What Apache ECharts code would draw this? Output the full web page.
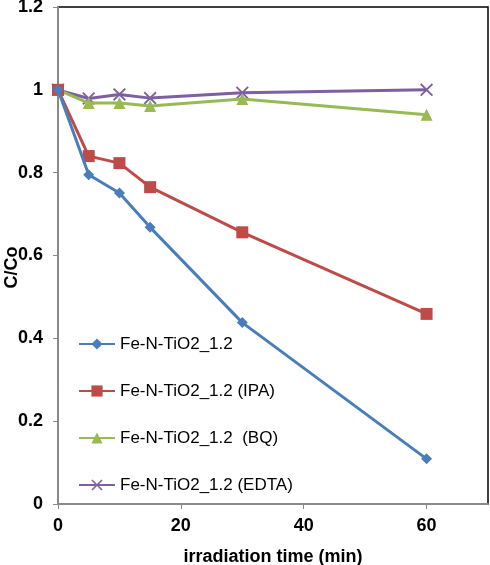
<!DOCTYPE html>
<html><head><meta charset="utf-8">
<script src="https://cdn.jsdelivr.net/npm/echarts@6/dist/echarts.min.js"></script>
<style>html,body{margin:0;padding:0;background:#fff}#c{width:490px;height:565px}</style>
</head><body><div id="c"></div>
<script>
const times = [0, 5, 10, 15, 30, 60];
const seriesNames = ['Fe-N-TiO2_1.2', 'Fe-N-TiO2_1.2 (IPA)', 'Fe-N-TiO2_1.2  (BQ)', 'Fe-N-TiO2_1.2 (EDTA)'];
const plain = [1, 0.795, 0.751, 0.668, 0.438, 0.109];
const ipa = [1, 0.840, 0.823, 0.765, 0.656, 0.459];
const bq = [1, 0.968, 0.968, 0.961, 0.978, 0.940];
const edta = [1, 0.979, 0.989, 0.980, 0.993, 1.0];
const xTicks = [0, 20, 40, 60];
const yTicks = [0, 0.2, 0.4, 0.6, 0.8, 1, 1.2];

const colors = ['#4A7EBB', '#BE4B48', '#98B954', '#7D60A0'];
const symbols = ['diamond', 'rect', 'triangle',
  'path://M0,1L1,0L5,4L9,0L10,1L6,5L10,9L9,10L5,6L1,10L0,9L4,5Z'];
const sizes = [11, 12, 12, 13];
const dataSets = [plain, ipa, bq, edta];

const chart = echarts.init(document.getElementById('c'));
const font = 'Liberation Sans, Arial, sans-serif';
chart.setOption({
  animation: false,
  grid: {left: 58, right: 2, top: 7, bottom: 61, outerBoundsMode: 'none', containLabel: false,
    show: true, borderColor: '#000', borderWidth: 1.5, backgroundColor: 'transparent'},
  legend: {
    orient: 'vertical', left: 78, top: 335, padding: 0, itemWidth: 36, itemHeight: 14, itemGap: 29,
    textStyle: {fontFamily: font, fontSize: 17, lineHeight: 18, color: '#000'},
    data: seriesNames
  },
  xAxis: {
    type: 'value', min: 0, max: 70, interval: 20,
    name: 'irradiation time (min)', nameLocation: 'middle', nameGap: 44, nameMoveOverlap: false,
    nameTextStyle: {fontFamily: font, fontSize: 18, fontWeight: 'bold', color: '#000'},
    axisLine: {onZero: false, lineStyle: {color: '#8a8a8a', width: 2}},
    axisTick: {show: true, length: 5, lineStyle: {color: '#8a8a8a'},
      customValues: xTicks},
    axisLabel: {fontFamily: font, fontSize: 18, fontWeight: 'bold', color: '#000', margin: 13,
      customValues: xTicks},
    splitLine: {show: false}
  },
  yAxis: {
    type: 'value', min: 0, max: 1.2, interval: 0.2,
    name: 'C/Co', nameLocation: 'middle', nameGap: 37, nameMoveOverlap: false,
    nameTextStyle: {fontFamily: font, fontSize: 18, fontWeight: 'bold', color: '#000',
      padding: [0, 24, 0, 0]},
    axisLine: {show: true, onZero: false, lineStyle: {color: '#8a8a8a', width: 2}},
    axisTick: {show: true, length: 5, lineStyle: {color: '#8a8a8a'}, customValues: yTicks},
    axisLabel: {fontFamily: font, fontSize: 18, fontWeight: 'bold', color: '#000', margin: 15,
      customValues: yTicks,
      formatter: v => String(Math.round(v * 10) / 10)},
    splitLine: {show: false}
  },
  series: seriesNames.map((n, i) => ({
    name: n, type: 'line',
    data: times.map((t, j) => [t, dataSets[i][j]]),
    symbol: symbols[i], symbolSize: sizes[i],
    lineStyle: {color: colors[i], width: 3},
    itemStyle: {color: colors[i]},
    z: 10 - i
  }))
});
</script></body></html>
